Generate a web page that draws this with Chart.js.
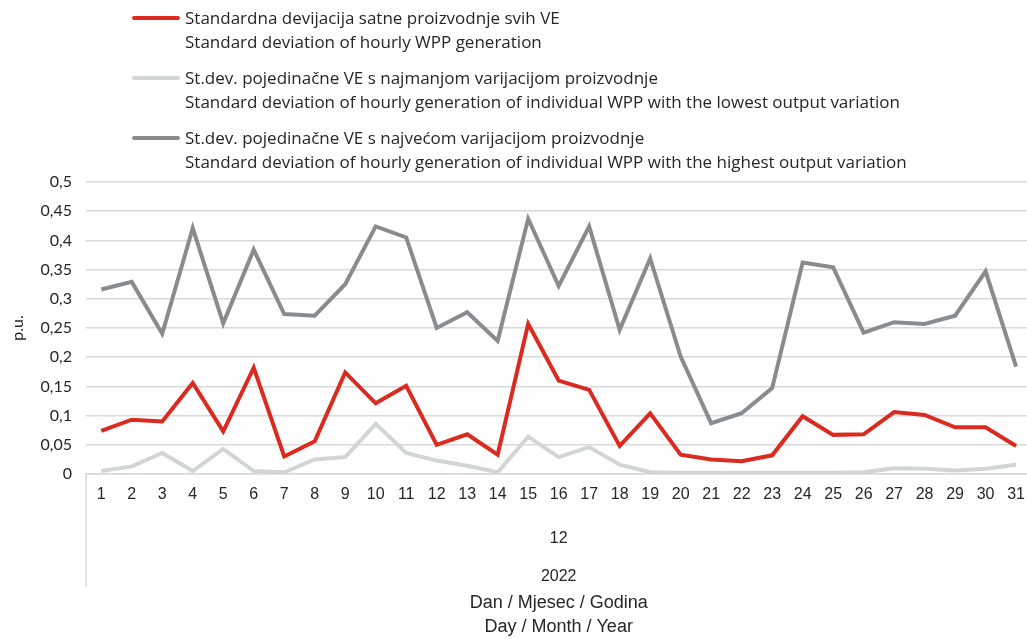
<!DOCTYPE html>
<html>
<head>
<meta charset="utf-8">
<script src="https://cdn.jsdelivr.net/npm/chart.js@4"></script>
<style>
    html, body { margin: 0; padding: 0; background: #fff; overflow: hidden; }
    #wrap { position: relative; width: 1036px; height: 639px; }
    #legend { position: absolute; left: 132px; top: 6px; font-family: 'Open Sans', Lato, sans-serif; font-size: 17px; color: #262626; }
    .item { position: relative; padding-left: 53px; line-height: 24px; margin-bottom: 12px; white-space: nowrap; }
    .swatch { position: absolute; left: 0; top: 10px; width: 48px; height: 4px; border-radius: 2px; }
</style>
</head>
<body>
<div id="wrap">
    <canvas id="chart" width="1036" height="639"></canvas>
    <div id="legend"></div>
</div>
<script>
const DAYS = Array.from({ length: 31 }, (_, i) => String(i + 1));
const MONTH_LABELS = ['12'];
const YEAR_LABELS = ['2022'];

const TOTAL_STD = [0.074, 0.093, 0.090, 0.156, 0.073, 0.182, 0.030, 0.056, 0.174, 0.121,
    0.151, 0.050, 0.068, 0.033, 0.257, 0.160, 0.144, 0.048, 0.104, 0.033,
    0.025, 0.022, 0.032, 0.099, 0.067, 0.068, 0.106, 0.101, 0.080, 0.080, 0.048];
const LOWEST_STD = [0.005, 0.013, 0.036, 0.005, 0.043, 0.005, 0.003, 0.025, 0.029, 0.086,
    0.036, 0.023, 0.014, 0.003, 0.064, 0.029, 0.046, 0.016, 0.003, 0.002,
    0.002, 0.002, 0.002, 0.002, 0.002, 0.003, 0.010, 0.009, 0.006, 0.009, 0.016];
const HIGHEST_STD = [0.316, 0.329, 0.240, 0.421, 0.258, 0.384, 0.274, 0.271, 0.325, 0.424,
    0.405, 0.250, 0.277, 0.228, 0.437, 0.322, 0.424, 0.247, 0.369, 0.201,
    0.087, 0.104, 0.147, 0.362, 0.354, 0.242, 0.260, 0.257, 0.271, 0.347, 0.184];

const SERIES = [
    { data: TOTAL_STD, color: '#db2a1f',
      label: ['Standardna devijacija satne proizvodnje svih VE', 'Standard deviation of hourly WPP generation'] },
    { data: LOWEST_STD, color: '#d2d5d6',
      label: ['St.dev. pojedinačne VE s najmanjom varijacijom proizvodnje', 'Standard deviation of hourly generation of individual WPP with the lowest output variation'] },
    { data: HIGHEST_STD, color: '#898c8f',
      label: ['St.dev. pojedinačne VE s najvećom varijacijom proizvodnje', 'Standard deviation of hourly generation of individual WPP with the highest output variation'] },
];

const GRID = '#d9d9d9';
const TEXT = '#262626';
const NARROW = "'Liberation Sans Narrow', 'Liberation Sans', sans-serif";

// html legend, labels have two lines each
const legend = document.getElementById('legend');
SERIES.forEach(s => {
    const el = document.createElement('div');
    el.className = 'item';
    el.innerHTML = `<span class="swatch" style="background:${s.color}"></span>${s.label[0]}<br>${s.label[1]}`;
    legend.appendChild(el);
});

// left separator line of the multi-level category axis
const axisFrame = {
    id: 'axisFrame',
    afterDraw(chart) {
        const { ctx, chartArea, scales } = chart;
        ctx.save();
        ctx.strokeStyle = GRID;
        ctx.lineWidth = 1.5;
        ctx.beginPath();
        ctx.moveTo(chartArea.left, chartArea.bottom);
        ctx.lineTo(chartArea.left, scales.x3.top + 37);
        ctx.stroke();
        ctx.restore();
    }
};

new Chart(document.getElementById('chart'), {
    type: 'line',
    data: {
        labels: DAYS,
        datasets: SERIES.map(s => ({
            label: s.label.join(' '),
            data: s.data,
            borderColor: s.color,
            backgroundColor: s.color,
            borderWidth: 4,
            pointRadius: 0,
            tension: 0,
        })),
    },
    options: {
        responsive: false,
        animation: false,
        layout: { padding: { top: 182, right: 0, bottom: 0, left: 0 } },
        plugins: { legend: { display: false }, tooltip: { enabled: false } },
        scales: {
            y: {
                min: 0,
                max: 0.5,
                afterFit: s => { s.width = 86; },
                ticks: {
                    stepSize: 0.05,
                    padding: 14,
                    color: TEXT,
                    font: { family: 'Lato', size: 16 },
                    callback: v => String(Math.round(v * 100) / 100).replace('.', ','),
                },
                grid: { color: GRID, lineWidth: 1.5, drawTicks: false },
                border: { display: false },
                title: { display: true, text: 'p.u.', color: TEXT, font: { family: 'Lato', size: 16 }, padding: { top: 8, bottom: 0 } },
            },
            x: {
                offset: true,
                afterFit: s => { s.height = 36; },
                ticks: { color: TEXT, font: { family: NARROW, size: 16 }, padding: 11, maxRotation: 0, autoSkip: false },
                grid: { display: false, drawTicks: false },
                border: { color: GRID, width: 1.5 },
            },
            x2: {
                type: 'category',
                position: 'bottom',
                labels: MONTH_LABELS,
                offset: true,
                afterFit: s => { s.height = 40; },
                ticks: { color: TEXT, font: { family: NARROW, size: 16 }, padding: 19 },
                grid: { display: false, drawTicks: false },
                border: { display: false },
            },
            x3: {
                type: 'category',
                position: 'bottom',
                labels: YEAR_LABELS,
                offset: true,
                afterFit: s => { s.height = 89; },
                ticks: { color: TEXT, font: { family: NARROW, size: 16 }, padding: 17 },
                grid: { display: false, drawTicks: false },
                border: { display: false },
                title: {
                    display: true,
                    text: ['Dan / Mjesec / Godina', 'Day / Month / Year'],
                    color: TEXT,
                    font: { family: NARROW, size: 18, lineHeight: 1.333 },
                    padding: { top: 0, bottom: 0 },
                },
            },
        },
    },
    plugins: [axisFrame],
});
</script>
</body>
</html>
